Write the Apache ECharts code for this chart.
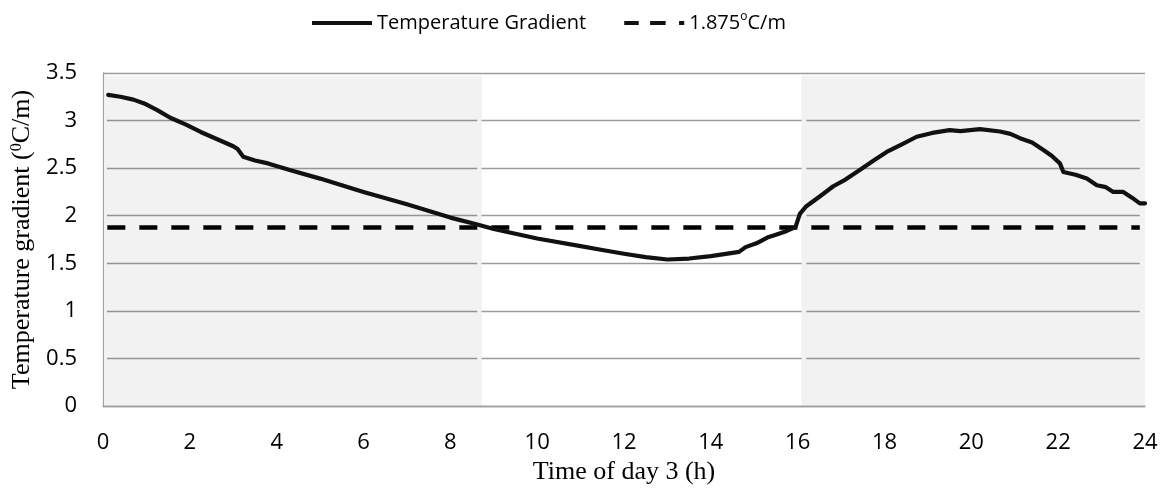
<!DOCTYPE html>
<html>
<head>
<meta charset="utf-8">
<script src="https://cdn.jsdelivr.net/npm/echarts@6/dist/echarts.min.js"></script>
<style>
  html, body { margin: 0; padding: 0; background: #fff; }
  #chart { width: 1164px; height: 495px; }
</style>
</head>
<body>
<div id="chart"></div>
<script>
// Time of day (h) and measured temperature gradient (°C/m) on day 3
const timeHours = [
  0.12, 0.4, 0.7, 0.95, 1.25, 1.55, 1.9, 2.25, 2.5, 2.75, 3.0, 3.1, 3.23, 3.5, 3.8,
  4.3, 5, 6, 7, 8, 8.6, 9, 10, 11, 11.5, 12, 12.5, 13, 13.5, 14, 14.5, 14.65, 14.8,
  15.05, 15.3, 15.5, 15.75, 15.95, 16.05, 16.2, 16.5, 16.82, 17.1, 17.43, 17.75,
  18.05, 18.4, 18.74, 19.1, 19.5, 19.75, 20.2, 20.66, 20.9, 21.12, 21.4, 21.66,
  21.85, 22.04, 22.12, 22.4, 22.66, 22.89, 23.1, 23.27, 23.5, 23.7, 23.88, 24.0
];
const gradientValues = [
  3.27, 3.25, 3.22, 3.18, 3.11, 3.03, 2.96, 2.88, 2.83, 2.78, 2.73, 2.70, 2.62, 2.58, 2.55,
  2.48, 2.39, 2.25, 2.12, 1.98, 1.91, 1.86, 1.76, 1.68, 1.64, 1.60, 1.565, 1.54, 1.55, 1.575, 1.61, 1.62, 1.67,
  1.71, 1.77, 1.80, 1.84, 1.88, 2.02, 2.10, 2.20, 2.31, 2.38, 2.48, 2.58,
  2.67, 2.75, 2.83, 2.87, 2.90, 2.89, 2.91, 2.885, 2.86, 2.815, 2.77, 2.69,
  2.63, 2.55, 2.46, 2.43, 2.39, 2.32, 2.30, 2.25, 2.25, 2.19, 2.13, 2.13
];

// Reference gradient level
const thresholdValue = 1.875;
const thresholdSpan = [0.1, 23.88];

// Shaded periods of the day (h)
const shadedPeriods = [[0, 8.72], [16.09, 24]];

// Axis settings
const xTicks = { min: 0, max: 24, interval: 2 };
const yTicks = { min: 0, max: 3.5, interval: 0.5 };

const SHADE_TOP = 3.47;
const gradientSeries = timeHours.map((t, i) => [t, gradientValues[i]]);
const thresholdSeries = thresholdSpan.map(t => [t, thresholdValue]);

// Light fill for each shaded period, plus opaque edge strips that interrupt the grid lines
const shadeFill = 'rgba(0,0,0,0.05)';
const edgeFill = '#f2f2f2';
const areaData = [];
shadedPeriods.forEach(p => {
  areaData.push([{ xAxis: p[0], yAxis: 0, itemStyle: { color: shadeFill } }, { xAxis: p[1], yAxis: SHADE_TOP }]);
});
[[0.02, 0.09], [8.62, 8.72], [16.09, 16.2], [23.88, 24]].forEach(s => {
  areaData.push([{ xAxis: s[0], yAxis: 0.01, itemStyle: { color: edgeFill } }, { xAxis: s[1], yAxis: SHADE_TOP }]);
});

const sansFont = '"Open Sans", "Noto Sans", sans-serif';
const serifFont = '"Liberation Serif", "DejaVu Serif", serif';

// Legend keys: a solid bar and a dash-dash-dot bar
const solidKey = 'path://M0,0H60V4H0Z';
const dashedKey = 'path://M0,0H14V4H0Z M25,0H40V4H25Z M53,0H58V4H53Z';

const chart = echarts.init(document.getElementById('chart'), null, { renderer: 'canvas' });
chart.setOption({
  animation: false,
  backgroundColor: '#ffffff',
  grid: { left: 103, right: 19, top: 73, bottom: 89, containLabel: false },
  legend: {
    data: [
      { name: 'Temperature Gradient', icon: solidKey, itemWidth: 60 },
      { name: '1.875°C/m', icon: dashedKey, itemWidth: 58 }
    ],
    left: 307,
    top: 6,
    itemWidth: 60,
    itemHeight: 4,
    itemGap: 38,
    symbolKeepAspect: false,
    textStyle: {
      fontFamily: sansFont,
      fontSize: 20,
      color: '#000',
      rich: {
        n: { fontFamily: sansFont, fontSize: 20, color: '#000', lineHeight: 24 },
        s: { fontFamily: sansFont, fontSize: 12, color: '#000', lineHeight: 12, verticalAlign: 'top' }
      }
    },
    formatter: function (name) {
      if (name === 'Temperature Gradient') return '{n|Temperature Gradient}';
      return '{n|1.875}{s|o}{n|C/m}';
    }
  },
  xAxis: {
    type: 'value',
    min: xTicks.min,
    max: xTicks.max,
    interval: xTicks.interval,
    name: 'Time of day 3 (h)',
    nameLocation: 'middle',
    nameGap: 48,
    nameTextStyle: { fontFamily: serifFont, fontSize: 26, color: '#000' },
    axisLine: { show: true, lineStyle: { color: '#a0a0a0', width: 1.3 } },
    axisTick: { show: false },
    axisLabel: { fontFamily: sansFont, fontSize: 22, color: '#000', margin: 26 },
    splitLine: { show: false }
  },
  yAxis: {
    type: 'value',
    min: yTicks.min,
    max: yTicks.max,
    interval: yTicks.interval,
    name: 'Temperature gradient ({s|0}C/m)',
    nameLocation: 'middle',
    nameRotate: 90,
    nameGap: 66,
    nameTextStyle: {
      fontFamily: serifFont,
      fontSize: 26,
      color: '#000',
      rich: {
        s: { fontFamily: serifFont, fontSize: 16, color: '#000', lineHeight: 16, verticalAlign: 'top' }
      }
    },
    axisLine: { show: true, lineStyle: { color: '#a0a0a0', width: 1.3 } },
    axisTick: { show: false },
    axisLabel: { fontFamily: sansFont, fontSize: 22, color: '#000', margin: 26 },
    splitLine: { show: true, lineStyle: { color: '#9c9c9c', width: 1.4 } }
  },
  series: [
    {
      name: 'periods',
      type: 'line',
      data: [],
      z: 1,
      silent: true,
      markArea: {
        silent: true,
        itemStyle: { borderWidth: 0 },
        data: areaData
      }
    },
    {
      name: '1.875°C/m',
      type: 'line',
      data: thresholdSeries,
      z: 3,
      symbol: 'none',
      lineStyle: { color: '#000', width: 4.5, type: [18, 14] },
      itemStyle: { color: '#111' }
    },
    {
      name: 'Temperature Gradient',
      type: 'line',
      data: gradientSeries,
      z: 4,
      symbol: 'none',
      lineStyle: { color: '#111', width: 4.2, join: 'round', cap: 'round' },
      itemStyle: { color: '#111' }
    }
  ]
});
</script>
</body>
</html>
